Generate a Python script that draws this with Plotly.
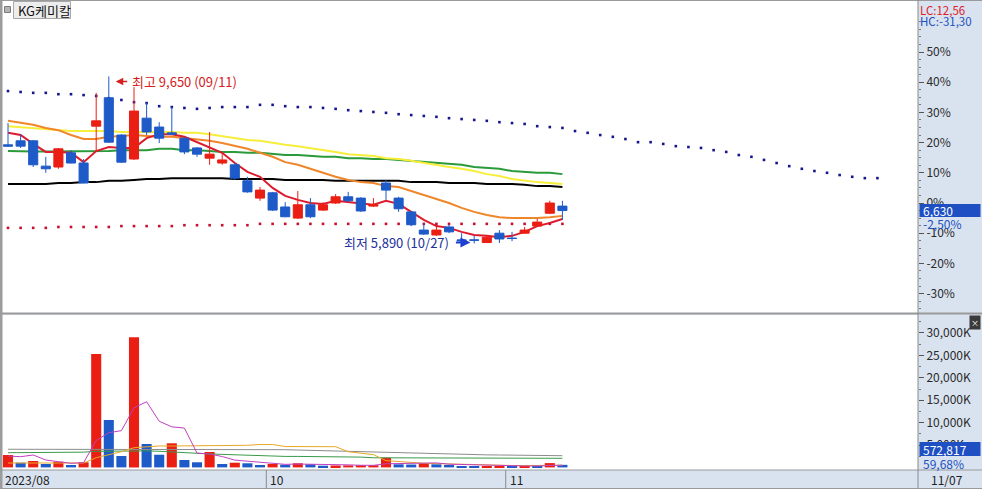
import plotly.graph_objects as go

# ---------------- data ----------------
stock_name = "KG케미칼"
dates = ["2023-08-30", "2023-08-31", "2023-09-01", "2023-09-04", "2023-09-05", "2023-09-06",
         "2023-09-07", "2023-09-08", "2023-09-11", "2023-09-12", "2023-09-13", "2023-09-14",
         "2023-09-15", "2023-09-18", "2023-09-19", "2023-09-20", "2023-09-21", "2023-09-22",
         "2023-09-25", "2023-09-26", "2023-09-27", "2023-10-04", "2023-10-05", "2023-10-06",
         "2023-10-10", "2023-10-11", "2023-10-12", "2023-10-13", "2023-10-16", "2023-10-17",
         "2023-10-18", "2023-10-19", "2023-10-20", "2023-10-23", "2023-10-24", "2023-10-25",
         "2023-10-26", "2023-10-27", "2023-10-30", "2023-10-31", "2023-11-01", "2023-11-02",
         "2023-11-03", "2023-11-06", "2023-11-07"]

opens = [8110, 8200, 8200, 7630, 7610, 7930, 7700, 8530, 9170, 8330, 7790, 8710, 8510, 8380, 8260,
         8040, 7810, 7700, 7660, 7300, 6910, 7030, 6710, 6460, 6760, 6640, 6800, 6940, 6910, 6730,
         7250, 6910, 6600, 6190, 6080, 6260, 5970, 5970, 5910, 6120, 6010, 6120, 6280, 6570, 6730]
highs = [8600, 8350, 8220, 7840, 8040, 7990, 7790, 9280, 9650, 8350, 9410, 9050, 8620, 8960, 8280,
         8060, 8400, 7950, 7700, 7390, 7160, 7050, 6820, 7070, 6910, 6820, 7000, 7050, 6930, 6910,
         7320, 6940, 6620, 6350, 6260, 6310, 6120, 6060, 6080, 6190, 6150, 6260, 6440, 6850, 6850]
lows = [8060, 8040, 7610, 7480, 7570, 7690, 7240, 7950, 8150, 7700, 7770, 8330, 8150, 8330, 7900,
        7840, 7660, 7660, 7320, 7030, 6850, 6620, 6480, 6440, 6460, 6620, 6780, 6820, 6600, 6710,
        6870, 6600, 6280, 6080, 6060, 6120, 5920, 5890, 5900, 5900, 5940, 6110, 6260, 6550, 6420]
closes = [8080, 8080, 7660, 7570, 8020, 7700, 7250, 8650, 8170, 7720, 8870, 8400, 8260, 8350, 7950,
          7900, 7900, 7770, 7360, 7050, 7090, 6640, 6490, 6760, 6490, 6760, 6940, 6850, 6620, 6760,
          7090, 6670, 6310, 6100, 6190, 6150, 5950, 5960, 6030, 5990, 6000, 6190, 6370, 6800, 6630]

# price moving averages
ma5 = [8380, 8330, 8130, 7950, 7950, 7930, 7720, 7970, 8060, 8040, 8040, 8260, 8350, 8350, 8290,
       8170, 8040, 7930, 7700, 7500, 7390, 7140, 6960, 6870, 6800, 6780, 6850, 6820, 6800, 6760,
       6850, 6780, 6600, 6420, 6280, 6240, 6150, 6080, 6060, 6030, 6060, 6150, 6280, 6350, 6440]
ma20 = [8650, 8600, 8560, 8490, 8440, 8330, 8240, 8240, 8290, 8310, 8330, 8310, 8290, 8290, 8260,
        8220, 8200, 8150, 8080, 8020, 7930, 7840, 7720, 7660, 7570, 7480, 7390, 7320, 7270, 7250,
        7180, 7160, 7070, 6980, 6890, 6800, 6690, 6600, 6530, 6480, 6460, 6460, 6460, 6480, 6510]
ma60 = [8530, 8510, 8490, 8470, 8440, 8420, 8420, 8420, 8420, 8400, 8400, 8400, 8400, 8400, 8380,
        8380, 8350, 8310, 8260, 8220, 8200, 8150, 8110, 8080, 8040, 7990, 7950, 7900, 7880, 7860,
        7810, 7790, 7750, 7700, 7660, 7610, 7570, 7520, 7450, 7410, 7340, 7300, 7270, 7250, 7230]
ma120 = [7970, 7960, 7960, 7960, 7960, 7960, 7960, 7970, 7970, 7990, 7990, 7990, 8020, 8020, 7990,
         7990, 7970, 7950, 7950, 7930, 7930, 7900, 7880, 7880, 7860, 7840, 7840, 7810, 7810, 7790,
         7790, 7770, 7750, 7720, 7700, 7680, 7660, 7610, 7590, 7570, 7520, 7500, 7480, 7480, 7450]
ma240 = [7230, 7230, 7230, 7230, 7250, 7250, 7270, 7270, 7300, 7300, 7320, 7340, 7340, 7360, 7360,
         7360, 7360, 7360, 7340, 7340, 7340, 7340, 7320, 7320, 7320, 7320, 7300, 7300, 7300, 7300,
         7300, 7300, 7270, 7270, 7270, 7250, 7250, 7250, 7230, 7230, 7230, 7210, 7180, 7180, 7160]

# dotted bands (upper one projected into the future)
upper_dots = [9320, 9300, 9280, 9280, 9250, 9250, 9230, 9210, 9160, 9120, 9070, 9050, 8980, 8960,
              8940, 8920, 8940, 8960, 8960, 8960, 9010, 9010, 8980, 8960, 8960, 8940, 8920, 8890,
              8870, 8850, 8830, 8800, 8780, 8760, 8740, 8710, 8690, 8670, 8650, 8620, 8600, 8580,
              8530, 8510, 8490, 8420, 8380, 8330, 8290, 8240, 8170, 8170, 8130, 8080, 8060, 8040,
              7990, 7950, 7880, 7840, 7770, 7700, 7630, 7570, 7520, 7480, 7430, 7390, 7360, 7360]
lower_dots = [6240, 6240, 6240, 6240, 6260, 6260, 6260, 6260, 6260, 6280, 6280, 6280, 6280, 6280,
              6300, 6300, 6300, 6300, 6300, 6300, 6330, 6330, 6330, 6330, 6330, 6330, 6330, 6330,
              6330, 6330, 6330, 6330, 6330, 6330, 6330, 6330, 6330, 6330, 6330, 6330, 6330, 6330,
              6330, 6330, 6330]

# volume, thousand shares
volume = [2770, 1050, 1430, 760, 1270, 540, 1140, 25310, 10580, 2540, 29040, 5220, 2830, 5380, 1650,
          1140, 3440, 760, 1050, 920, 540, 760, 600, 920, 690, 380, 430, 450, 470, 480,
          2170, 690, 640, 920, 690, 540, 310, 300, 320, 330, 310, 340, 320, 959.8, 572.817]
vma5 = [2540, 2390, 2770, 1650, 1270, 920, 1050, 6000, 7750, 8200, 13300, 14660, 10300, 9050, 8780,
        3200, 3000, 2420, 1630, 1350, 1200, 800, 680, 750, 730, 640, 620, 570, 480, 460,
        810, 860, 900, 1020, 1000, 720, 640, 560, 430, 360, 320, 320, 320, 460, 500]
vma20 = [980, 980, 980, 980, 980, 980, 980, 2170, 2770, 3500, 4400, 4620, 4780, 4780, 4780,
         4780, 4780, 4930, 4930, 4930, 5110, 5110, 4660, 4660, 4660, 4620, 4620, 3500, 3150, 2850,
         1510, 1290, 1090, 920, 850, 760, 650, 540, 440, 420, 420, 420, 420, 440, 450]
vma60 = [3280, 3280, 3280, 3280, 3280, 3280, 3400, 3600, 3660, 3660, 3700, 3680, 3600, 3500, 3400,
         3150, 3000, 2900, 2770, 2700, 2620, 2540, 2450, 2450, 2450, 2300, 2300, 2300, 2300, 2150,
         2150, 2150, 2150, 2150, 2150, 2150, 2150, 2030, 2030, 2030, 2030, 2030, 2030, 2030, 2030]
vma120 = [4050, 4050, 4050, 4050, 4000, 3950, 3950, 4050, 4080, 4080, 4100, 4100, 4100, 4100, 4100,
          4100, 4100, 4100, 4100, 4100, 4100, 4100, 3950, 3880, 3800, 3720, 3640, 3570, 3500, 3420,
          3370, 3300, 3220, 3150, 3070, 2990, 2920, 2850, 2800, 2770, 2730, 2700, 2660, 2630, 2610]

base_price = 6800                       # previous close = 0 %
pct_ticks = [50, 40, 30, 20, 10, 0, -10, -20, -30]
vol_ticks = [5000, 10000, 15000, 20000, 25000, 30000]
month_labels = ["10", "11"]

# ---------------- style ----------------
FONT = "Noto Sans CJK KR"
RED = "#EB1E14"
BLUE = "#1E5AC8"
PANEL = "#D9E3F0"
GRAYLINE = "#9A9A9A"
W, H = 918.0, 470.0


def px(x):
    return x / W


def py(y):
    return (H - y) / H


n = len(dates)
xi = list(range(n))
fig = go.Figure()

# price moving averages (behind the candles)
for arr, col in [(ma240, "#000000"), (ma120, "#2A9A3A"), (ma60, "#F6EE3A"),
                 (ma20, "#F0862A"), (ma5, "#DC1C2C")]:
    fig.add_trace(go.Scatter(x=xi, y=arr, mode="lines", line=dict(color=col, width=2),
                             hoverinfo="skip", xaxis="x", yaxis="y", zorder=0))

# dotted bands
fig.add_trace(go.Scatter(x=list(range(len(upper_dots))), y=upper_dots, mode="markers",
                         marker=dict(symbol="square", size=2.6, color="#16168C"),
                         hoverinfo="skip", xaxis="x", yaxis="y", zorder=0))
fig.add_trace(go.Scatter(x=list(range(len(lower_dots))), y=lower_dots, mode="markers",
                         marker=dict(symbol="square", size=2.6, color="#C8102E"),
                         hoverinfo="skip", xaxis="x", yaxis="y", zorder=0))

# candles
fig.add_trace(go.Candlestick(
    x=xi, open=opens, high=highs, low=lows, close=closes,
    increasing=dict(line=dict(color=RED, width=1), fillcolor=RED),
    decreasing=dict(line=dict(color=BLUE, width=1), fillcolor=BLUE),
    whiskerwidth=0, hoverinfo="skip", xaxis="x", yaxis="y", zorder=1))

# volume bars: red when volume rises vs. previous day
vcols = [RED if i == 0 or volume[i] >= volume[i - 1] else BLUE for i in range(n)]
fig.add_trace(go.Bar(x=xi, y=volume, width=0.8, marker=dict(color=vcols, line=dict(width=0)),
                     hoverinfo="skip", xaxis="x", yaxis="y2"))
for arr, col in [(vma120, "#8C8C8C"), (vma60, "#3A9A4A"), (vma20, "#E8A828"), (vma5, "#C040C0")]:
    fig.add_trace(go.Scatter(x=xi, y=arr, mode="lines", line=dict(color=col, width=1),
                             hoverinfo="skip", xaxis="x", yaxis="y2"))

# ---------------- axes ----------------
price_tickvals = [base_price * (1 + p / 100) for p in pct_ticks]
price_ticktext = [f"{p}%" for p in pct_ticks]
price_minor = [base_price * (1 + k * 2.5 / 100) for k in range(-16, 25)]
vol_minor = [k * 2500 for k in range(1, 14)]

axis_common = dict(side="right", anchor="x", showgrid=False, zeroline=False, showline=False,
                   ticks="outside", ticklen=5, tickwidth=1, tickcolor="#555555",
                   tickfont=dict(family=FONT, size=12, color="#2A2A2A"), fixedrange=True)

fig.update_layout(
    width=982, height=489,
    margin=dict(l=0, r=64, t=0, b=19),
    paper_bgcolor=PANEL, plot_bgcolor="white",
    showlegend=False, hovermode=False,
    boxgap=0.1, boxgroupgap=0.2,
    xaxis=dict(domain=[0, 1], range=[-0.635, 72.22], anchor="y2", showticklabels=False,
               showgrid=False, zeroline=False, ticks="", showline=False,
               rangeslider=dict(visible=False), fixedrange=True),
    yaxis=dict(domain=[py(313), 1], range=[4323, 11371], tickmode="array",
               tickvals=price_tickvals, ticktext=price_ticktext,
               minor=dict(tickvals=price_minor, ticks="outside", ticklen=2, tickcolor="#777777"),
               **axis_common),
    yaxis2=dict(domain=[0, py(315)], range=[-580, 34016], tickmode="array",
                tickvals=vol_ticks, ticktext=[f"{v:,}K" for v in vol_ticks],
                minor=dict(tickvals=vol_minor, ticks="outside", ticklen=2, tickcolor="#777777"),
                **axis_common),
)

# ---------------- frame shapes ----------------
shapes = [
    dict(type="rect", xref="paper", yref="paper", x0=0, x1=px(2.5), y0=py(489), y1=1,
         fillcolor="#9C9C9C", line=dict(width=0), layer="above"),
    dict(type="line", xref="paper", yref="paper", x0=0, x1=982 / W, y0=py(0.5), y1=py(0.5),
         line=dict(color=GRAYLINE, width=1), layer="above"),
    dict(type="line", xref="paper", yref="paper", x0=0, x1=982 / W, y0=py(313.5), y1=py(313.5),
         line=dict(color=GRAYLINE, width=2), layer="above"),
    dict(type="line", xref="paper", yref="paper", x0=0, x1=982 / W, y0=py(470), y1=py(470),
         line=dict(color=GRAYLINE, width=1), layer="above"),
    dict(type="line", xref="paper", yref="paper", x0=1, x1=1, y0=py(489), y1=1,
         line=dict(color="#8A8A8A", width=1), layer="above"),
    dict(type="line", xref="paper", yref="paper", x0=0, x1=982 / W, y0=py(488.5), y1=py(488.5),
         line=dict(color=GRAYLINE, width=1), layer="above"),
    # title box
    dict(type="rect", xref="paper", yref="paper", x0=px(4.5), x1=px(10.5), y0=py(12.5), y1=py(6.5),
         fillcolor="#B4B4B4", line=dict(color="#7A7A7A", width=1)),
    dict(type="rect", xref="paper", yref="paper", x0=px(13.5), x1=px(70.5), y0=py(18.5), y1=py(1.5),
         fillcolor="#EDEDED", line=dict(color="#A8A8A8", width=1)),
]
month_pos = [next(i for i, d in enumerate(dates) if d[5:7] == m) - 0.5 for m in month_labels]
for mp in month_pos:
    shapes.append(dict(type="line", xref="x", yref="paper", x0=mp, x1=mp, y0=py(489), y1=py(470),
                       line=dict(color="#8A8A8A", width=1)))

# current price / volume boxes
last_close = closes[-1]
prev_close = closes[-2]
half_box = 6.5 * (11371 - 4323) / 313.0
shapes.append(dict(type="rect", xref="paper", yref="y", x0=px(919.5), x1=px(980.5),
                   y0=last_close - half_box, y1=last_close + half_box,
                   fillcolor="#1E50C4", line=dict(width=0)))
shapes.append(dict(type="rect", xref="paper", yref="paper", x0=px(919.5), x1=px(980.5),
                   y0=py(456), y1=py(442), fillcolor="#1E50C4", line=dict(width=0)))
fig.update_layout(shapes=shapes)

# ---------------- texts ----------------
def fmt(v):
    return f"{v:.2f}".replace(".", ",")


hi_idx = max(range(n), key=lambda i: highs[i])
lo_idx = min(range(n), key=lambda i: lows[i])
hi_val, lo_val = highs[hi_idx], lows[lo_idx]
hi_date = dates[hi_idx][5:].replace("-", "/")
lo_date = dates[lo_idx][5:].replace("-", "/")
lc = (last_close / lo_val - 1) * 100
hc = (last_close / hi_val - 1) * 100
chg = (last_close / prev_close - 1) * 100
vol_last = volume[-1]
vol_ratio = volume[-1] / volume[-2] * 100

ann = []
ann.append(dict(xref="paper", yref="paper", x=px(16), y=py(10), text=stock_name, showarrow=False,
                xanchor="left", yanchor="middle", font=dict(family=FONT, size=13, color="#111111")))
ann.append(dict(xref="paper", yref="paper", x=px(918), y=py(0), text=f"LC:{fmt(lc)}", showarrow=False,
                xanchor="left", yanchor="top", font=dict(family=FONT, size=11.5, color="#E0202A")))
ann.append(dict(xref="paper", yref="paper", x=px(918), y=py(11), text=f"HC:{fmt(hc)}", showarrow=False,
                xanchor="left", yanchor="top", font=dict(family=FONT, size=11.5, color="#2050C0")))
ann.append(dict(xref="paper", yref="y", x=px(921), y=last_close, text=f"{last_close:,}", showarrow=False,
                xanchor="left", yanchor="middle", font=dict(family=FONT, size=12, color="white")))
ann.append(dict(xref="paper", yref="y", x=px(921), y=last_close, yshift=-13, text=f"{fmt(chg)}%",
                showarrow=False, xanchor="left", yanchor="middle",
                font=dict(family=FONT, size=12, color="#2050C0")))
ann.append(dict(xref="paper", yref="paper", x=px(921), y=py(449), text=f"{round(vol_last * 1000):,}",
                showarrow=False, xanchor="left", yanchor="middle",
                font=dict(family=FONT, size=12, color="white")))
ann.append(dict(xref="paper", yref="paper", x=px(921), y=py(463), text=f"{fmt(vol_ratio)}%",
                showarrow=False, xanchor="left", yanchor="middle",
                font=dict(family=FONT, size=12, color="#2050C0")))
ann.append(dict(xref="paper", yref="paper", x=px(975), y=py(322), text="×", showarrow=False,
                xanchor="center", yanchor="middle", bgcolor="#3A3A3A",
                font=dict(family=FONT, size=8, color="white")))

# high / low markers
ann.append(dict(xref="x", yref="y", x=hi_idx + 0.55, y=hi_val, yshift=-5, text="", showarrow=True,
                ax=13, ay=0, arrowhead=2, arrowsize=1, arrowwidth=1.5, arrowcolor="#D42020",
                standoff=0, startstandoff=0))
ann.append(dict(xref="x", yref="y", x=hi_idx + 0.55, y=hi_val, yshift=-5, xshift=14,
                text=f"최고 {hi_val:,} ({hi_date})", showarrow=False, xanchor="left", yanchor="middle",
                font=dict(family=FONT, size=13, color="#D42020")))
ann.append(dict(xref="x", yref="y", x=lo_idx - 0.3, y=lo_val, yshift=1, text="", showarrow=True,
                ax=-16, ay=0, arrowhead=2, arrowsize=1, arrowwidth=2, arrowcolor="#1E40D0",
                standoff=0, startstandoff=0))
ann.append(dict(xref="x", yref="y", x=lo_idx - 0.3, y=lo_val, yshift=1, xshift=-19,
                text=f"최저 {lo_val:,} ({lo_date})", showarrow=False, xanchor="right", yanchor="middle",
                font=dict(family=FONT, size=13, color="#22309A")))

# x axis strip labels
ann.append(dict(xref="paper", yref="paper", x=px(3), y=py(479.5),
                text=f"{dates[0][:4]}/{dates[0][5:7]}", showarrow=False, xanchor="left",
                yanchor="middle", font=dict(family=FONT, size=12, color="#222222")))
for mp, lab in zip(month_pos, month_labels):
    ann.append(dict(xref="x", yref="paper", x=mp, xshift=2, y=py(479.5), text=lab, showarrow=False,
                    xanchor="left", yanchor="middle", font=dict(family=FONT, size=12, color="#222222")))
ann.append(dict(xref="paper", yref="paper", x=px(929), y=py(479.5),
                text=dates[-1][5:].replace("-", "/"), showarrow=False, xanchor="left",
                yanchor="middle", font=dict(family=FONT, size=12, color="#222222")))

fig.update_layout(annotations=ann)
fig.write_html("out.html", config={"displayModeBar": False},
               post_script="document.body.style.margin='0';"
                           "document.documentElement.style.overflow='hidden';")
